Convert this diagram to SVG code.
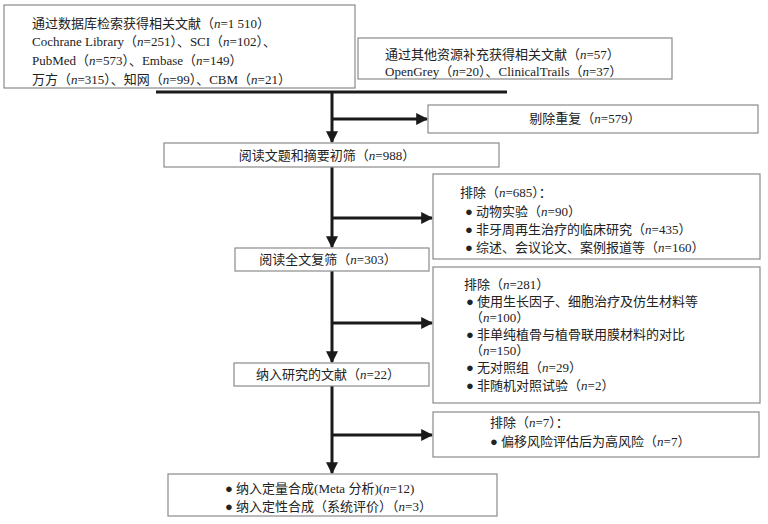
<svg xmlns="http://www.w3.org/2000/svg" width="768" height="524" viewBox="0 0 768 524">
<style>
.box{fill:#fff;stroke:#8a8a8a;stroke-width:1.2}
.t{font-family:"Liberation Serif","Noto Sans CJK SC",serif;font-size:13px;fill:#222}
.c{text-anchor:middle}
.i{font-style:italic}
.ln{stroke:#1a1a1a;stroke-width:3;fill:none}
</style>
<defs>
<marker id="ah" markerWidth="4" markerHeight="4" refX="3.6" refY="2" orient="auto" markerUnits="strokeWidth">
<path d="M0,0 L4,2 L0,4 Z" fill="#1a1a1a"/>
</marker>
</defs>
<rect width="768" height="524" fill="#fff"/>
<g id="connectors">
<line class="ln" x1="156" y1="92" x2="507" y2="92"/>
<line class="ln" x1="332" y1="92" x2="332" y2="142" marker-end="url(#ah)"/>
<line class="ln" x1="332" y1="119" x2="427" y2="119" marker-end="url(#ah)"/>
<line class="ln" x1="332" y1="167" x2="332" y2="247" marker-end="url(#ah)"/>
<line class="ln" x1="332" y1="218" x2="432" y2="218" marker-end="url(#ah)"/>
<line class="ln" x1="332" y1="271" x2="332" y2="362" marker-end="url(#ah)"/>
<line class="ln" x1="332" y1="323" x2="432" y2="323" marker-end="url(#ah)"/>
<line class="ln" x1="332" y1="386" x2="332" y2="473" marker-end="url(#ah)"/>
<line class="ln" x1="332" y1="435" x2="432" y2="435" marker-end="url(#ah)"/>
</g>
<g id="db">
<rect class="box" x="4" y="5" width="351" height="83"/>
<text class="t" x="32" y="28">通过数据库检索获得相关文献（<tspan class="i">n</tspan>=1 510）</text>
<text class="t" x="32" y="46">Cochrane Library（<tspan class="i">n</tspan>=251）、SCI（<tspan class="i">n</tspan>=102）、</text>
<text class="t" x="32" y="65">PubMed（<tspan class="i">n</tspan>=573）、Embase（<tspan class="i">n</tspan>=149）</text>
<text class="t" x="32" y="84">万方（<tspan class="i">n</tspan>=315）、知网（<tspan class="i">n</tspan>=99）、CBM（<tspan class="i">n</tspan>=21）</text>
</g>
<g id="other">
<rect class="box" x="358" y="38" width="314" height="41"/>
<text class="t" x="385" y="59">通过其他资源补充获得相关文献（<tspan class="i">n</tspan>=57）</text>
<text class="t" x="385" y="76">OpenGrey（<tspan class="i">n</tspan>=20）、ClinicalTrails（<tspan class="i">n</tspan>=37）</text>
</g>
<g id="dup">
<rect class="box" x="428" y="105" width="330" height="28"/>
<text class="t c" x="585" y="123">剔除重复（<tspan class="i">n</tspan>=579）</text>
</g>
<g id="title">
<rect class="box" x="164" y="143" width="335" height="24"/>
<text class="t c" x="327" y="160">阅读文题和摘要初筛（<tspan class="i">n</tspan>=988）</text>
</g>
<g id="ex1">
<rect class="box" x="433" y="174" width="327" height="85"/>
<text class="t" x="460" y="197">排除（<tspan class="i">n</tspan>=685）：</text>
<text class="t" x="465" y="216">● 动物实验（<tspan class="i">n</tspan>=90）</text>
<text class="t" x="465" y="234">● 非牙周再生治疗的临床研究（<tspan class="i">n</tspan>=435）</text>
<text class="t" x="465" y="252">● 综述、会议论文、案例报道等（<tspan class="i">n</tspan>=160）</text>
</g>
<g id="full">
<rect class="box" x="235" y="248" width="194" height="23"/>
<text class="t c" x="328" y="264">阅读全文复筛（<tspan class="i">n</tspan>=303）</text>
</g>
<g id="ex2">
<rect class="box" x="433" y="267" width="327" height="136"/>
<text class="t" x="464" y="289">排除（<tspan class="i">n</tspan>=281）</text>
<text class="t" x="466" y="306">● 使用生长因子、细胞治疗及仿生材料等</text>
<text class="t" x="470" y="322">（<tspan class="i">n</tspan>=100）</text>
<text class="t" x="466" y="339">● 非单纯植骨与植骨联用膜材料的对比</text>
<text class="t" x="470" y="355">（<tspan class="i">n</tspan>=150）</text>
<text class="t" x="466" y="372">● 无对照组（<tspan class="i">n</tspan>=29）</text>
<text class="t" x="466" y="390">● 非随机对照试验（<tspan class="i">n</tspan>=2）</text>
</g>
<g id="inc">
<rect class="box" x="234" y="363" width="195" height="23"/>
<text class="t c" x="328" y="379">纳入研究的文献（<tspan class="i">n</tspan>=22）</text>
</g>
<g id="ex3">
<rect class="box" x="433" y="412" width="326" height="45"/>
<text class="t" x="490" y="427">排除（<tspan class="i">n</tspan>=7）：</text>
<text class="t" x="490" y="446">● 偏移风险评估后为高风险（<tspan class="i">n</tspan>=7）</text>
</g>
<g id="final">
<rect class="box" x="168" y="474" width="329" height="42"/>
<text class="t" x="225" y="493">● 纳入定量合成(Meta 分析)(<tspan class="i">n</tspan>=12)</text>
<text class="t" x="225" y="511">● 纳入定性合成（系统评价）（<tspan class="i">n</tspan>=3）</text>
</g>
</svg>
